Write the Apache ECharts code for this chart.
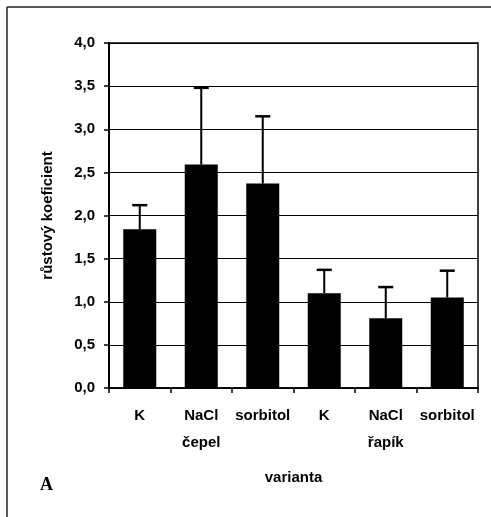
<!DOCTYPE html>
<html>
<head>
<meta charset="utf-8">
<script src="https://cdn.jsdelivr.net/npm/echarts@6/dist/echarts.min.js"></script>
<style>
  html, body { margin: 0; padding: 0; background: #fff; }
  #chart { width: 491px; height: 517px; }
</style>
</head>
<body>
<div id="chart"></div>
<script>
// Growth coefficient per variant (blade / petiole), mean with upper SD
const categories = ['K', 'NaCl\nčepel', 'sorbitol', 'K', 'NaCl\nřapík', 'sorbitol'];
const means = [1.84, 2.59, 2.37, 1.10, 0.81, 1.05];
const errors = [0.28, 0.89, 0.78, 0.27, 0.36, 0.31];
const yTicks = { min: 0, max: 4, step: 0.5 };

const FONT = 'Liberation Sans, Arial, sans-serif';
const chart = echarts.init(document.getElementById('chart'), null, { renderer: 'canvas' });

const errorData = means.map((m, i) => [i, m, m + errors[i]]);
const labelStyle = { fontFamily: FONT, fontSize: 15, fontWeight: 'bold', color: '#000' };

chart.setOption({
  animation: false,
  backgroundColor: '#fff',
  textStyle: { fontFamily: FONT, color: '#000' },
  graphic: [
    // outer frame (top and left edges)
    { type: 'line', shape: { x1: 7, y1: 7, x2: 491, y2: 7 }, style: { stroke: '#222', lineWidth: 1.5 } },
    { type: 'line', shape: { x1: 7, y1: 7, x2: 7, y2: 517 }, style: { stroke: '#222', lineWidth: 1.5 } },
    { type: 'text', left: 40, top: 476,
      style: { text: 'A', font: 'bold 18px "Liberation Serif", "Times New Roman", serif', fill: '#000' } }
  ],
  grid: {
    left: 109, right: 13, top: 43, bottom: 129,
    show: true, borderColor: '#000', borderWidth: 1.5, backgroundColor: 'transparent'
  },
  xAxis: {
    type: 'category',
    data: categories,
    boundaryGap: true,
    name: 'varianta',
    nameLocation: 'middle',
    nameGap: 82,
    nameTextStyle: labelStyle,
    axisLine: { lineStyle: { color: '#000', width: 1.5 } },
    axisTick: { show: true, length: 5, inside: false, interval: 0, lineStyle: { color: '#000', width: 1.5 } },
    axisLabel: Object.assign({ interval: 0, margin: 14, lineHeight: 27 }, labelStyle),
    splitLine: { show: false }
  },
  yAxis: {
    type: 'value',
    min: yTicks.min, max: yTicks.max, interval: yTicks.step,
    name: 'růstový koeficient',
    nameLocation: 'middle',
    nameGap: 54,
    nameTextStyle: labelStyle,
    axisLine: { show: true, lineStyle: { color: '#000', width: 2 } },
    axisTick: { show: true, length: 5, lineStyle: { color: '#000', width: 1.5 } },
    axisLabel: Object.assign({
      margin: 14,
      formatter: v => v.toFixed(1).replace('.', ',')
    }, labelStyle),
    splitLine: { show: true, lineStyle: { color: '#000', width: 1 } }
  },
  series: [
    {
      type: 'bar',
      data: means,
      barWidth: 33,
      itemStyle: { color: '#000' },
      z: 2
    },
    {
      type: 'custom',
      data: errorData,
      z: 3,
      renderItem: (params, api) => {
        const i = api.value(0);
        const base = api.coord([i, api.value(1)]);
        const top = api.coord([i, api.value(2)]);
        const half = 7.5;
        return {
          type: 'group',
          children: [
            { type: 'line', shape: { x1: base[0], y1: base[1], x2: top[0], y2: top[1] }, style: { stroke: '#000', lineWidth: 2 } },
            { type: 'line', shape: { x1: top[0] - half, y1: top[1], x2: top[0] + half, y2: top[1] }, style: { stroke: '#000', lineWidth: 2.5 } }
          ]
        };
      }
    }
  ]
});
</script>
</body>
</html>
